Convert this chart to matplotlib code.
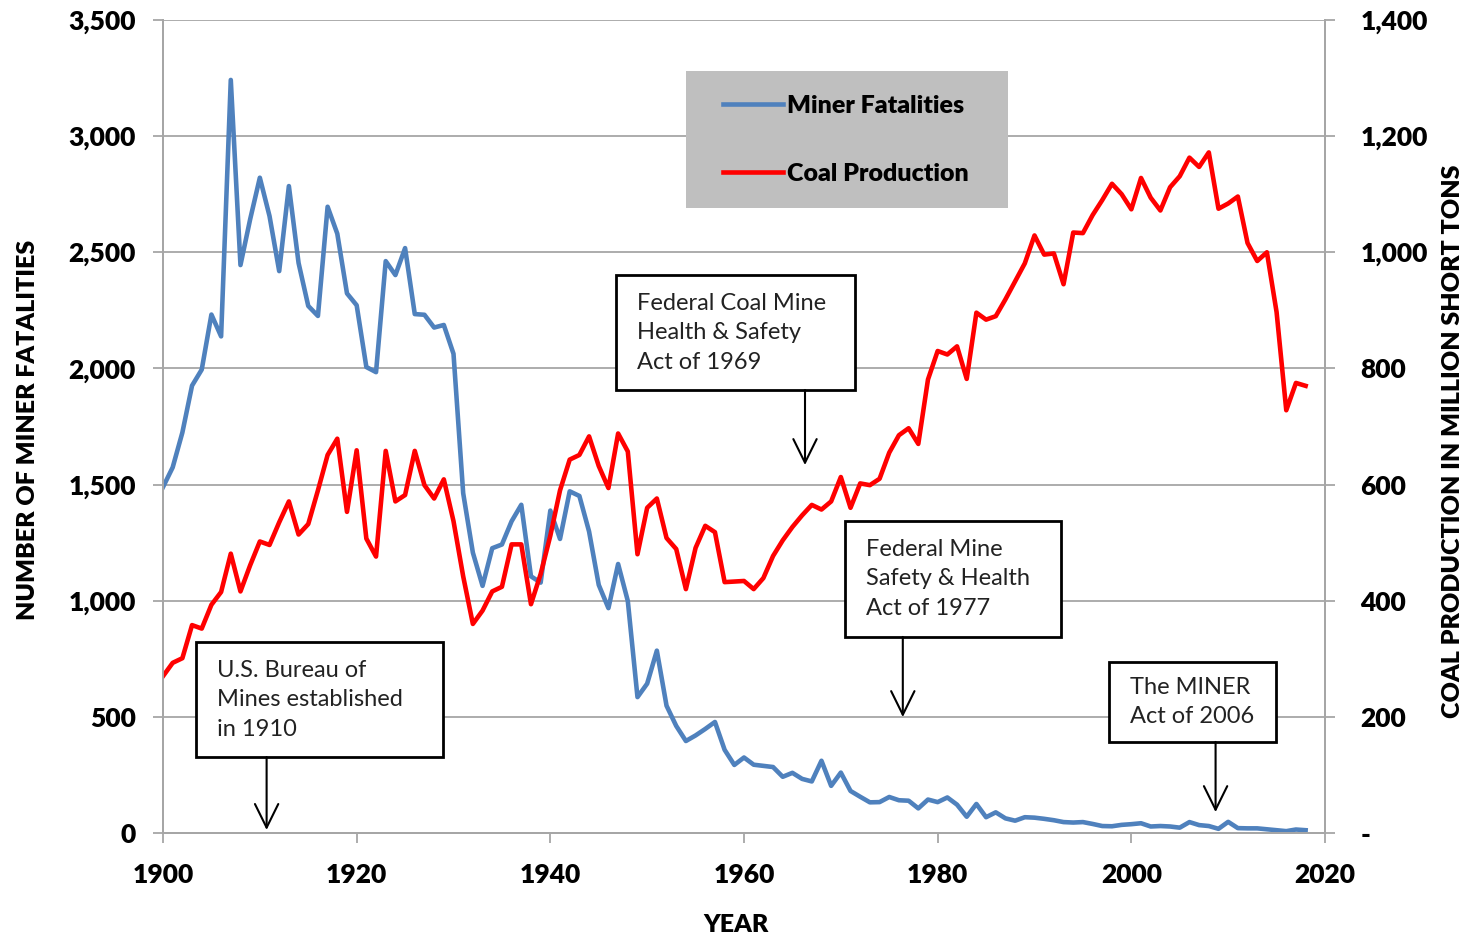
import matplotlib
matplotlib.use('Agg')
import matplotlib.pyplot as plt
from matplotlib.patches import Rectangle
from matplotlib.lines import Line2D
from matplotlib.ticker import FuncFormatter, MultipleLocator

plt.rcParams['font.family'] = ['Lato', 'DejaVu Sans']
plt.rcParams['font.weight'] = 'heavy'

years = list(range(1900, 2019))

# US coal miner fatalities per year
fatalities = [
    1489, 1574, 1724, 1926, 1995, 2232, 2138, 3242, 2445, 2642,
    2821, 2656, 2419, 2785, 2454, 2269, 2226, 2696, 2580, 2323,
    2272, 2006, 1984, 2462, 2402, 2518, 2234, 2231, 2176, 2187,
    2063, 1463, 1207, 1064, 1226, 1242, 1342, 1413, 1105, 1078,
    1388, 1266, 1471, 1451, 1298, 1068, 968, 1158, 999, 585,
    643, 785, 548, 461, 396, 420, 448, 478, 358, 293,
    325, 294, 289, 284, 242, 259, 233, 222, 311, 203,
    260, 181, 156, 132, 133, 155, 141, 139, 106, 144,
    133, 153, 122, 70, 125, 68, 89, 63, 53, 68,
    66, 61, 55, 47, 45, 47, 39, 30, 29, 35,
    38, 42, 28, 30, 28, 23, 47, 34, 30, 18,
    48, 21, 20, 20, 16, 12, 8, 15, 12,
]

# coal production, million short tons
production = [
    270, 293, 301, 358, 352, 393, 415, 481, 416, 461,
    502, 496, 535, 571, 514, 532, 590, 651, 679, 553,
    659, 507, 476, 658, 571, 582, 658, 599, 576, 609,
    537, 442, 360, 383, 416, 424, 497, 497, 394, 446,
    512, 590, 643, 651, 683, 632, 594, 688, 657, 480,
    560, 576, 508, 489, 420, 491, 529, 518, 432, 433,
    434, 420, 439, 477, 504, 527, 547, 565, 557, 571,
    613, 560, 602, 599, 610, 655, 685, 697, 670, 781,
    830, 824, 838, 782, 896, 884, 890, 919, 950, 981,
    1029, 996, 998, 945, 1034, 1033, 1064, 1090, 1118, 1100,
    1074, 1128, 1094, 1072, 1112, 1131, 1163, 1147, 1172, 1075,
    1084, 1096, 1016, 985, 1000, 897, 728, 775, 770,
]

# annotation text, box (x0, x1, y_top, y_bottom in fatality units), arrow (x, y_from, y_to)
notes = [
    ('U.S. Bureau of\nMines established\nin 1910', (1903.4, 1928.9, 822, 327), (1910.7, 327, 13)),
    ('Federal Coal Mine\nHealth & Safety\nAct of 1969', (1946.8, 1971.5, 2402, 1907), (1966.3, 1907, 1584)),
    ('Federal Mine\nSafety & Health\nAct of 1977', (1970.4, 1992.7, 1343, 844), (1976.4, 844, 499)),
    ('The MINER\nAct of 2006', (1997.7, 2014.9, 736, 392), (2008.7, 392, 90)),
]

blue = '#4f81bd'
red = '#ff0000'
grey = '#a6a6a6'

fig = plt.figure(figsize=(14.76, 9.38), dpi=100)
ax = fig.add_axes([163 / 1476, 1 - 833 / 938, (1325 - 163) / 1476, (833 - 20) / 938])
ax2 = ax.twinx()

ax.plot(years, fatalities, color=blue, lw=3.3, solid_joinstyle='round')
ax2.plot(years, production, color=red, lw=3.3, solid_joinstyle='round')

ax.set_xlim(1900, 2020)
ax.set_ylim(0, 3500)
ax2.set_ylim(0, 1400)
ax.xaxis.set_major_locator(MultipleLocator(20))
ax.yaxis.set_major_locator(MultipleLocator(500))
ax2.yaxis.set_major_locator(MultipleLocator(200))
ax.yaxis.set_major_formatter(FuncFormatter(lambda v, p: f'{v:,.0f}'))
ax2.yaxis.set_major_formatter(FuncFormatter(lambda v, p: '-' if v == 0 else f'{v:,.0f}'))

ax.grid(axis='y', color=grey, lw=1.3)
for a in (ax, ax2):
    a.spines['top'].set_visible(False)
    for s in ('left', 'right', 'bottom'):
        a.spines[s].set_color(grey)
        a.spines[s].set_linewidth(1.3)
    a.tick_params(colors=grey, length=7.5, width=1.3, labelcolor='black', labelsize=19)
ax.tick_params(axis='x', pad=14)
ax.tick_params(axis='y', pad=12)
ax2.tick_params(axis='y', pad=18)
for lab in ax2.get_yticklabels():
    lab.set_horizontalalignment('left')

fig.text(736 / 1476, 1 - 925 / 938, 'YEAR', ha='center', va='center', fontsize=18)
fig.text(28 / 1476, 1 - 430 / 938, 'NUMBER OF MINER FATALITIES', rotation=90,
         ha='center', va='center', fontsize=18)
fig.text(1453 / 1476, 1 - 441 / 938, 'COAL PRODUCTION IN MILLION SHORT TONS', rotation=90,
         ha='center', va='center', fontsize=18)

# annotations with boxes and arrows
for text, (x0, x1, yt, yb), (xa, ya0, ya1) in notes:
    ax2.add_patch(Rectangle((x0, yb), x1 - x0, yt - yb, transform=ax.transData,
                            facecolor='white', edgecolor='black', lw=2, zorder=6, clip_on=False))
    ax2.text(x0 + 2.2, (yt + yb) / 2, text, transform=ax.transData, ha='left', va='center',
             fontsize=17, fontweight='normal', linespacing=1.5, color='#222222', zorder=7)
    ax2.annotate('', xy=(xa, ya1), xytext=(xa, ya0), xycoords=ax.transData, textcoords=ax.transData,
                 arrowprops=dict(arrowstyle='->,head_length=0.85,head_width=0.42', color='black',
                                 lw=1.5, mutation_scale=20, shrinkA=0, shrinkB=0), zorder=7)

# legend on grey panel
ax2.add_patch(Rectangle((686 / 1476, 1 - 208 / 938), (1008 - 686) / 1476, (208 - 71) / 938,
                        transform=fig.transFigure, facecolor='#bfbfbf', edgecolor='none',
                        zorder=8, clip_on=False))
handles = [Line2D([], [], color=blue, lw=3.3), Line2D([], [], color=red, lw=3.3)]
leg = ax2.legend(handles, ['Miner Fatalities', 'Coal Production'], loc='center',
                 bbox_to_anchor=(846 / 1476, 1 - 140 / 938), bbox_transform=fig.transFigure,
                 frameon=False, prop={'weight': 'heavy', 'size': 18}, handlelength=2.4,
                 handletextpad=0.15, labelspacing=1.85)
leg.set_zorder(9)

fig.savefig('out.png', dpi=100)
